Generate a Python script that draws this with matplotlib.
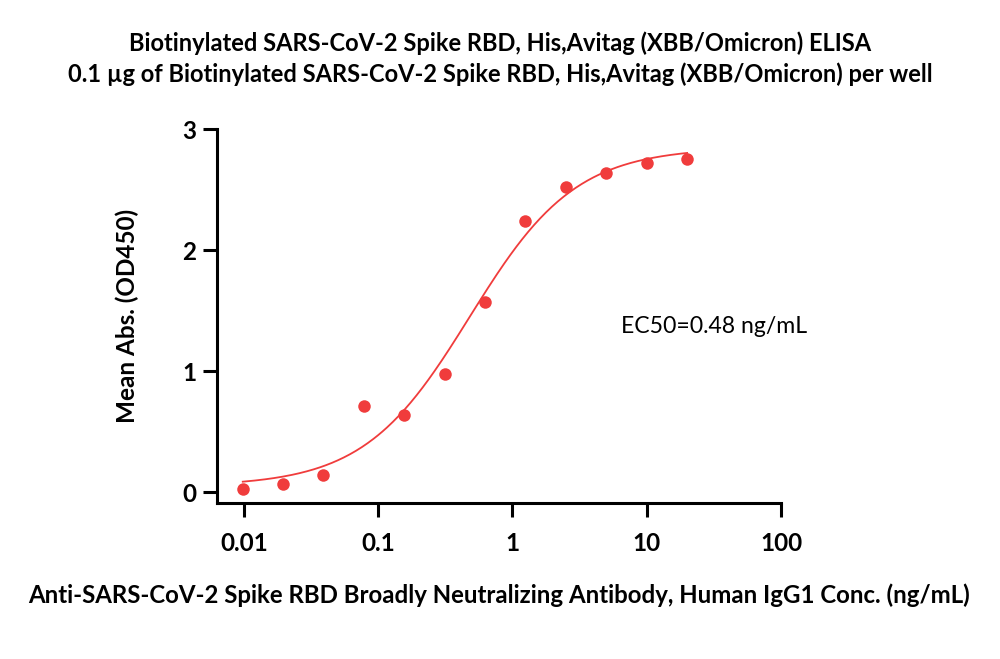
import numpy as np
import matplotlib.pyplot as plt

plt.rcParams['font.family'] = ['Lato', 'DejaVu Sans']

# concentrations (ng/mL) and mean OD450
conc = [0.0098, 0.0195, 0.039, 0.078, 0.156, 0.3125, 0.625, 1.25, 2.5, 5, 10, 20]
od450 = [0.025, 0.066, 0.143, 0.713, 0.636, 0.975, 1.573, 2.242, 2.521, 2.639, 2.721, 2.757]

# 4PL fit parameters
bottom, top, ec50, hill = 0.05, 2.85, 0.48, 1.1

xticks = [0.01, 0.1, 1, 10, 100]
xticklabels = ['0.01', '0.1', '1', '10', '100']
yticks = [0, 1, 2, 3]

red = '#f03c3c'

fig = plt.figure(figsize=(10, 6.59), dpi=100)
ax = fig.add_axes([0.217, 0.2367, 0.564, 0.5671])

xs = np.logspace(np.log10(conc[0]), np.log10(conc[-1]), 300)
ys = bottom + (top - bottom) / (1 + (ec50 / xs) ** hill)
ax.plot(xs, ys, color=red, lw=1.3)
ax.plot(conc, od450, 'o', color=red, ms=9, mec='none')

ax.set_xscale('log')
ax.set_xlim(0.0063, 100)
ax.set_ylim(-0.088, 3)
ax.set_xticks(xticks)
ax.set_xticklabels(xticklabels)
ax.minorticks_off()
ax.set_yticks(yticks)
ax.spines['top'].set_visible(False)
ax.spines['right'].set_visible(False)
for s in ['left', 'bottom']:
    ax.spines[s].set_linewidth(2.2)
ax.tick_params(width=2.2, length=10, labelsize=17.5)
ax.tick_params(axis='x', pad=11)
ax.tick_params(axis='y', pad=5)
for lab in ax.get_xticklabels() + ax.get_yticklabels():
    lab.set_fontweight('bold')

ax.set_ylabel('Mean Abs. (OD450)', fontsize=17.5, fontweight='bold', labelpad=31)
ax.set_xlabel('Anti-SARS-CoV-2 Spike RBD Broadly Neutralizing Antibody, Human IgG1 Conc. (ng/mL)',
              fontsize=17.3, fontweight='bold', labelpad=20)
ax.text((0.621 - 0.217) / 0.564, 0.473, 'EC50=0.48 ng/mL', transform=ax.transAxes,
        fontsize=16.6, va='center', ha='left')

fig.text(0.5, 1 - 43 / 659, 'Biotinylated SARS-CoV-2 Spike RBD, His,Avitag (XBB/Omicron) ELISA',
         ha='center', va='center', fontsize=17, fontweight='bold')
fig.text(0.5, 1 - 74 / 659, '0.1 µg of Biotinylated SARS-CoV-2 Spike RBD, His,Avitag (XBB/Omicron) per well',
         ha='center', va='center', fontsize=17, fontweight='bold')

fig.savefig('out.png', dpi=100)
